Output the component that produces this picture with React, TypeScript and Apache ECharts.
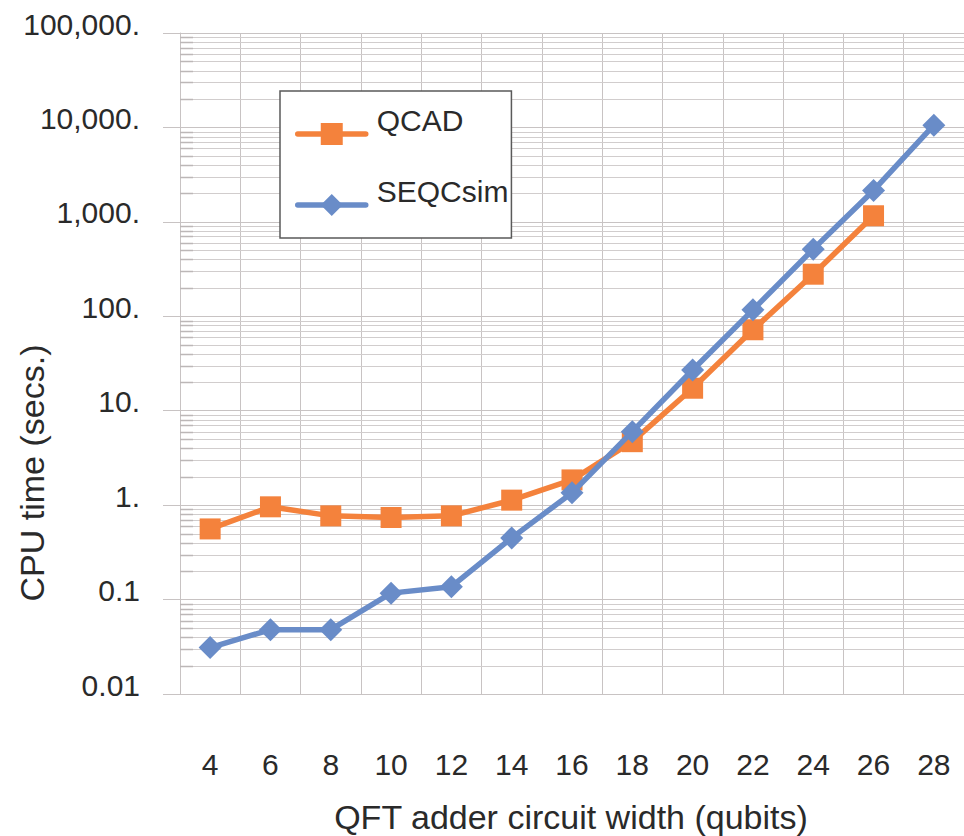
import React, { useEffect, useRef } from "react";
import * as echarts from "echarts";

const categories = ["4", "6", "8", "10", "12", "14", "16", "18", "20", "22", "24", "26", "28"];
const qcadValues = [0.56, 0.96, 0.77, 0.74, 0.77, 1.13, 1.85, 4.7, 17.3, 72, 279, 1160, null];
const seqcsimValues = [0.031, 0.048, 0.048, 0.117, 0.137, 0.45, 1.35, 6.0, 27, 117, 514, 2150, 10570];
const yTickValues = [0.01, 0.1, 1, 10, 100, 1000, 10000, 100000];
const yTickLabels = ["0.01", "0.1", "1.", "10.", "100.", "1,000.", "10,000.", "100,000."];
const minorMultipliers = [2, 3, 4, 5, 6, 7, 8, 9];

const FONT = "'Liberation Sans', Arial, Helvetica, sans-serif";
const TEXT = "#2a2a2a";
const GRID = "#c8c3c3";
const ORANGE = "#f4823c";
const BLUE = "#698cc8";

const minorValues: number[] = [];
for (let i = 0; i < yTickValues.length - 1; i++) {
  for (const m of minorMultipliers) minorValues.push(yTickValues[i] * m);
}

export default function App() {
  const ref = useRef<HTMLDivElement>(null);
  useEffect(() => {
    if (!ref.current) return;
    const chart = echarts.init(ref.current, undefined, { renderer: "svg" });
    chart.setOption({
      animation: false,
      backgroundColor: "#ffffff",
      textStyle: { fontFamily: FONT },
      grid: { left: 180, top: 33, bottom: 142, right: -5, containLabel: false },
      legend: {
        orient: "vertical",
        left: 280,
        top: 91,
        padding: [14, 3, 15, 15],
        itemGap: 24,
        itemWidth: 68,
        itemHeight: 27.5,
        backgroundColor: "#ffffff",
        borderColor: "#5a5a5a",
        borderWidth: 1.5,
        selectedMode: false,
        data: ["QCAD", "SEQCsim"],
        lineStyle: { width: 5.5, cap: "round" },
        formatter: (name: string) => "{a|" + name + "}\n{b| }",
        textStyle: {
          fontSize: 30,
          color: TEXT,
          fontFamily: FONT,
          padding: [0, 0, 0, 6],
          rich: {
            a: { fontSize: 30, lineHeight: 26, color: TEXT, fontFamily: FONT },
            b: { fontSize: 10, lineHeight: 28, color: TEXT, fontFamily: FONT },
          },
        },
      },
      xAxis: {
        type: "category",
        data: categories,
        boundaryGap: true,
        axisLine: { show: true, lineStyle: { color: GRID, width: 1 } },
        axisTick: { show: false },
        axisLabel: { fontSize: 30, color: TEXT, fontFamily: FONT, margin: 55, interval: 0 },
        splitLine: { show: true, interval: 0, lineStyle: { color: GRID, width: 1 } },
      },
      yAxis: {
        type: "log",
        logBase: 10,
        min: 0.01,
        max: 100000,
        interval: 1,
        axisLine: { show: true, lineStyle: { color: GRID, width: 1 } },
        axisTick: { show: true, length: 17, inside: false, lineStyle: { color: GRID, width: 1 } },
        axisLabel: {
          fontSize: 30,
          color: TEXT,
          fontFamily: FONT,
          margin: 40,
          formatter: (v: number) => {
            const i = Math.round(Math.log10(v)) + 2;
            return "{a|" + (yTickLabels[i] ?? "") + "}\n{b| }";
          },
          rich: {
            a: { fontSize: 30, lineHeight: 30, color: TEXT, fontFamily: FONT },
            b: { fontSize: 10, lineHeight: 18, color: TEXT, fontFamily: FONT },
          },
        },
        splitLine: { show: true, lineStyle: { color: GRID, width: 1 } },
      },
      graphic: [
        {
          type: "text",
          x: 32,
          y: 473,
          rotation: Math.PI / 2,
          style: {
            text: "CPU time (secs.)",
            fontSize: 34,
            fontFamily: FONT,
            fill: TEXT,
            align: "center",
            verticalAlign: "middle",
          },
        },
        {
          type: "text",
          x: 571,
          y: 817,
          style: {
            text: "QFT adder circuit width (qubits)",
            fontSize: 34,
            fontFamily: FONT,
            fill: TEXT,
            align: "center",
            verticalAlign: "middle",
          },
        },
      ],
      series: [
        {
          type: "custom",
          name: "minorGrid",
          silent: true,
          z: 1,
          clip: false,
          data: minorValues.map((v) => [0, v]),
          renderItem: (params: any, api: any) => {
            const cs = params.coordSys;
            const y = Math.round(api.coord([0, api.value(1)])[1]) + 0.5;
            return {
              type: "group",
              children: [
                {
                  type: "line",
                  shape: { x1: cs.x, y1: y, x2: cs.x + cs.width, y2: y },
                  style: { stroke: "#d1cdcd", lineWidth: 1 },
                },
                {
                  type: "line",
                  shape: { x1: cs.x, y1: y, x2: cs.x + 13, y2: y },
                  style: { stroke: "#bcb7b7", lineWidth: 1.5 },
                },
              ],
            };
          },
        },
        {
          type: "line",
          name: "QCAD",
          data: qcadValues,
          z: 3,
          symbol: "rect",
          symbolSize: 21,
          connectNulls: false,
          lineStyle: { color: ORANGE, width: 5.5, join: "round", cap: "round" },
          itemStyle: { color: ORANGE },
        },
        {
          type: "line",
          name: "SEQCsim",
          data: seqcsimValues,
          z: 4,
          symbol: "diamond",
          symbolSize: 23,
          lineStyle: { color: BLUE, width: 5.5, join: "round", cap: "round" },
          itemStyle: { color: BLUE },
        },
      ],
    });
    return () => chart.dispose();
  }, []);
  return (
    <div
      ref={ref}
      style={{ position: "absolute", left: 0, top: 0, width: 964, height: 836 }}
    />
  );
}
